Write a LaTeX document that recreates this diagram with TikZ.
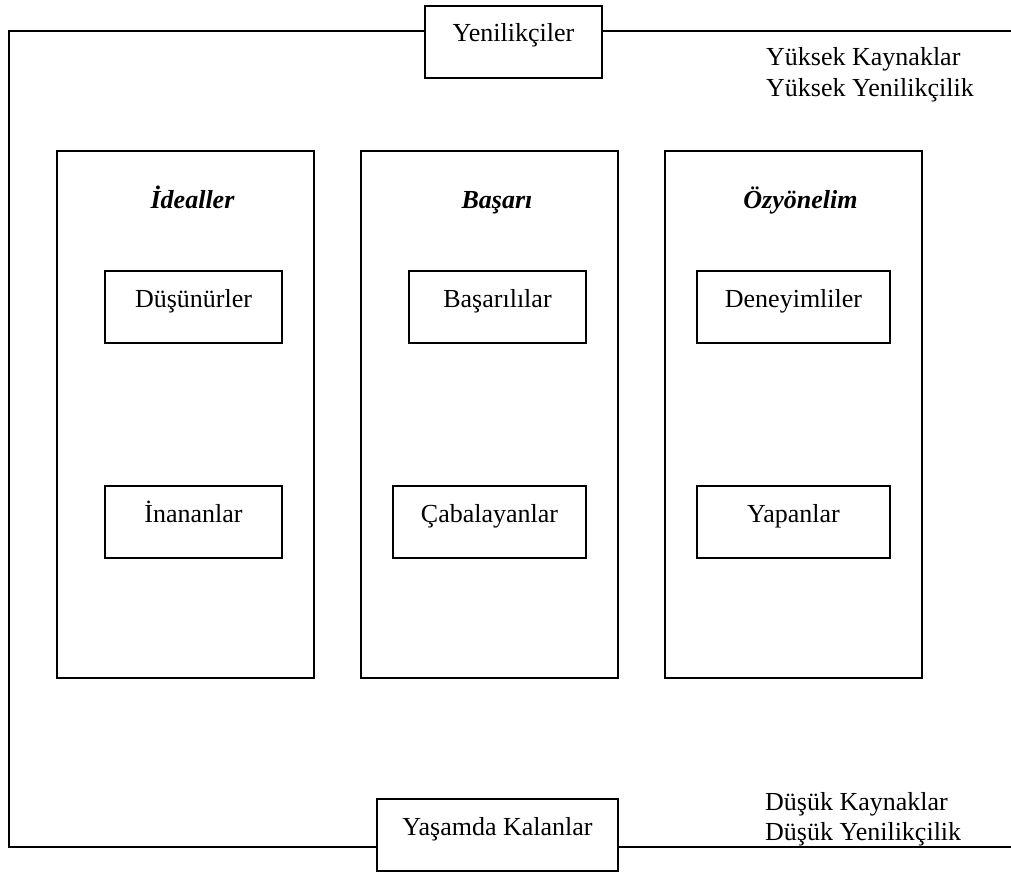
\documentclass[tikz,border=0pt]{standalone}
\usepackage{fontspec}
\setmainfont{Liberation Serif}
\begin{document}
\begin{tikzpicture}[x=1pt,y=-1pt,
  every node/.style={font=\fontsize{26}{31}\selectfont},
  frame/.style={draw=black,line width=1.8pt},
  cell/.style={frame,inner xsep=0pt,inner ysep=0pt,text height=36pt,text depth=36pt,anchor=base},
  column/.style={frame,minimum width=257pt,minimum height=527pt,inner sep=0pt},
  heading/.style={font=\fontsize{26}{31}\selectfont\bfseries\itshape,anchor=base,inner sep=0pt},
  side/.style={anchor=base west,inner sep=0pt},
  rule/.style={line width=1.8pt}]
\useasboundingbox (0,0) rectangle (1011,871);

% outer frame corners and loose ends
\coordinate (tl) at (9,30.7);
\coordinate (tr) at (1011,30.7);
\coordinate (bl) at (9,846.7);
\coordinate (br) at (1011,846.7);

% top and bottom boxes
\node[cell,minimum width=177pt] (yen) at (513.4,41.7) {Yenilikçiler};
\node[cell,minimum width=241pt] (yas) at (497.5,835) {Yaşamda Kalanlar};

% frame lines
\draw[rule] (yen.west |- tl) -- (tl) -- (bl) -- (yas.west |- bl);
\draw[rule] (yen.east |- tr) -- (tr);
\draw[rule] (yas.east |- br) -- (br);

% side labels
\node[side] (hi1) at (766,65) {Yüksek Kaynaklar};
\node[side] (hi2) at (766,96.5) {Yüksek Yenilikçilik};
\node[side] (lo1) at (765,810) {Düşük Kaynaklar};
\node[side] (lo2) at (765,840) {Düşük Yenilikçilik};

% columns
\node[column] (c1) at (185.5,414.4) {};
\node[column] (c2) at (489.5,414.4) {};
\node[column] (c3) at (793.5,414.4) {};

% column headings
\node[heading] (h1) at (192.5,208) {İdealler};
\node[heading] (h2) at (497,208) {Başarı};
\node[heading] (h3) at (800.5,208) {Özyönelim};

% inner boxes
\node[cell,minimum width=177pt] (dus) at (193.5,307) {Düşünürler};
\node[cell,minimum width=177pt] (ina) at (193.5,522) {İnananlar};
\node[cell,minimum width=177pt] (bas) at (497.5,307) {Başarılılar};
\node[cell,minimum width=193pt] (cab) at (489.5,522) {Çabalayanlar};
\node[cell,minimum width=193pt] (den) at (793.5,307) {Deneyimliler};
\node[cell,minimum width=193pt] (yap) at (793.5,522) {Yapanlar};
\end{tikzpicture}
\end{document}
